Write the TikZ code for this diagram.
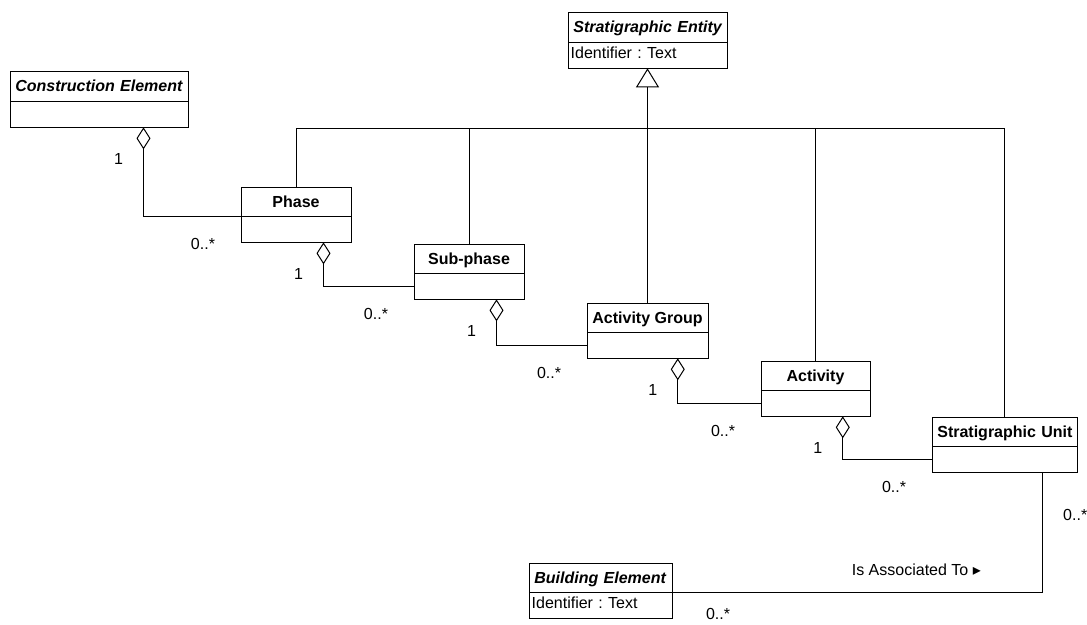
\documentclass[tikz,border=0pt]{standalone}
\usepackage{fontspec}
\setmainfont{Liberation Sans}
\newfontfamily\symfont{DejaVu Sans}
\usepackage{tikz}
\usetikzlibrary{arrows.meta,calc,positioning}
\frenchspacing
\hyphenpenalty=10000
\exhyphenpenalty=10000
\newcommand{\umlfont}{\fontsize{12}{14.4}\selectfont}
\tikzset{
  umlline/.style={line width=0.75pt, draw=black},
  genline/.style={umlline, {Triangle[open,length=14.25pt,width=17.25pt]}-},
  aggline/.style={umlline, {Diamond[open,length=16.5pt,width=10.5pt]}-},
  headbox/.style={
    draw=black,
    line width=0.75pt,
    outer sep=0pt,
    inner xsep=4pt,
    inner ysep=0pt,
    minimum height=22pt,
    text height=10pt,
    text depth=2pt,
    anchor=north west,
    font=\umlfont\bfseries
  },
  lefthead/.style={headbox, text width=#1, align=left},
  abstracthead/.style={lefthead=#1, font=\umlfont\bfseries\itshape},
  attrbox/.style={
    draw=black,
    line width=0.75pt,
    outer sep=0pt,
    inner xsep=2pt,
    inner ysep=0pt,
    minimum height=19.5pt,
    text height=9pt,
    text depth=4.5pt,
    align=left,
    font=\umlfont
  },
  mult/.style={inner sep=0pt, font=\umlfont}
}

\begin{document}
\begin{tikzpicture}[x=0.75pt,y=-0.75pt]
  \useasboundingbox (0,0) rectangle (1087,624);

  % classes
  \node[abstracthead=111.25pt] at (568,13)
    (entity) {\mbox{Stratigraphic Entity}};
  \node[attrbox,text width=115.25pt,below=0pt of entity]
    (entity-a) {Identifier : Text};

  \node[abstracthead=125.5pt] at (10,72)
    (cons) {\mbox{Construction Element}};
  \node[attrbox,minimum width=133.5pt,below=0pt of cons]
    (cons-a) {};

  \node[headbox,minimum width=82.5pt] at (241,187)
    (phase) {Phase};
  \node[attrbox,minimum width=82.5pt,below=0pt of phase]
    (phase-a) {};

  \node[headbox,minimum width=82.5pt] at (414,244)
    (sub) {Sub-phase};
  \node[attrbox,minimum width=82.5pt,below=0pt of sub]
    (sub-a) {};

  \node[headbox,minimum width=90.75pt] at (587,303)
    (ag) {Activity Group};
  \node[attrbox,minimum width=90.75pt,below=0pt of ag]
    (ag-a) {};

  \node[headbox,minimum width=81.75pt] at (761,361)
    (act) {Activity};
  \node[attrbox,minimum width=81.75pt,below=0pt of act]
    (act-a) {};

  \node[lefthead=100.75pt] at (932,417)
    (su) {\mbox{Stratigraphic Unit}};
  \node[attrbox,minimum width=108.75pt,below=0pt of su]
    (su-a) {};

  \node[abstracthead=99.25pt] at (529,563)
    (bldg) {\mbox{Building Element}};
  \node[attrbox,text width=103.25pt,below=0pt of bldg]
    (bldg-a) {Identifier : Text};

  % generalisation
  \coordinate (bus) at (0,129);
  \draw[genline] (entity-a.south) -- (ag.north);
  \foreach \cls in {phase,sub,act,su}
    \draw[umlline] (\cls.north) |- (ag.north |- bus);

  % aggregation
  \foreach \whole/\tgt in {cons/phase.south west,phase/sub-a.west,sub/ag-a.west,ag/act-a.west,act/su-a.west}
    \draw[aggline]
      ($(\whole-a.south west)!0.75!(\whole-a.south east)$)
      node[mult,xshift=-18.75pt,yshift=-24pt] {1}
      |- (\tgt) node[mult,xshift=-28.5pt,yshift=-21pt] {0..*};

  % association
  \draw[umlline]
    ($(su-a.south west)!0.76!(su-a.south east)$)
    node[mult,xshift=24.75pt,yshift=-32.25pt] {0..*}
    |- (bldg.south east) node[mult,xshift=34.5pt,yshift=-16.5pt] {0..*}
    node[mult,pos=0.67,yshift=17.25pt] {Is Associated To {\symfont ▸}};
\end{tikzpicture}
\end{document}
